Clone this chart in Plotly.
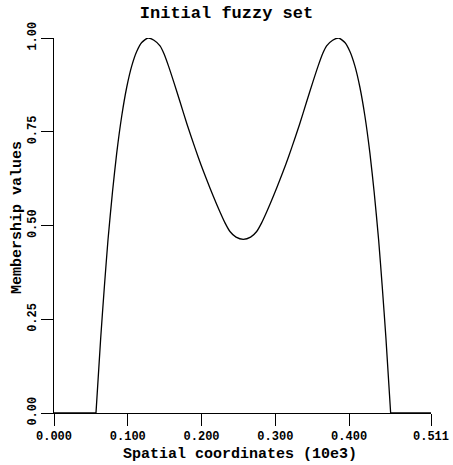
import plotly.graph_objects as go

# Spatial coordinates (x) and membership values (y)
flat_left_x = [0.000, 0.0569]
flat_left_y = [0.000, 0.000]
flat_right_x = [0.4563, 0.511]
flat_right_y = [0.000, 0.000]

x_vals = [0.0569, 0.0633, 0.0684, 0.0732, 0.0793, 0.0850, 0.0918, 0.0985, 0.1053, 0.1121,
          0.1189, 0.1274, 0.1355, 0.1437, 0.1491, 0.1549, 0.1626, 0.1708, 0.1803, 0.1911,
          0.1992, 0.2070, 0.2155, 0.2250, 0.2318, 0.2385, 0.2467, 0.2566,
          0.2665, 0.2747, 0.2814, 0.2882, 0.2977, 0.3062, 0.3140, 0.3221, 0.3329, 0.3424,
          0.3506, 0.3583, 0.3641, 0.3695, 0.3777, 0.3858, 0.3943, 0.4011, 0.4079, 0.4147,
          0.4214, 0.4282, 0.4339, 0.4400, 0.4448, 0.4499, 0.4563]
y_vals = [0.000, 0.200, 0.340, 0.462, 0.590, 0.693, 0.792, 0.868, 0.925, 0.964,
          0.988, 1.000, 0.994, 0.979, 0.958, 0.927, 0.881, 0.830, 0.770, 0.707,
          0.662, 0.622, 0.580, 0.536, 0.507, 0.484, 0.469, 0.463,
          0.469, 0.484, 0.507, 0.536, 0.580, 0.622, 0.662, 0.707, 0.770, 0.830,
          0.881, 0.927, 0.958, 0.979, 0.994, 1.000, 0.988, 0.964, 0.925, 0.868,
          0.792, 0.693, 0.590, 0.462, 0.340, 0.200, 0.000]

x_tickvals = [0.0, 0.1, 0.2, 0.3, 0.4, 0.511]
x_ticktext = ["0.000", "0.100", "0.200", "0.300", "0.400", "0.511"]
y_tickvals = [0.0, 0.25, 0.5, 0.75, 1.0]
y_ticktext = ["0.00", "0.25", "0.50", "0.75", "1.00"]

FONT = "Liberation Mono"
LINE = dict(color="black", width=1.3)

fig = go.Figure()
fig.add_trace(go.Scatter(x=flat_left_x, y=flat_left_y, mode="lines", line=LINE,
                         showlegend=False, hoverinfo="skip"))
fig.add_trace(go.Scatter(x=x_vals, y=y_vals, mode="lines",
                         line=dict(color="black", width=1.3, shape="spline", smoothing=0.6),
                         showlegend=False, hoverinfo="skip"))
fig.add_trace(go.Scatter(x=flat_right_x, y=flat_right_y, mode="lines", line=LINE,
                         showlegend=False, hoverinfo="skip"))

W, H = 453, 465
L, R, T, B = 54, 22, 38, 52
PW, PH = W - L - R, H - T - B

fig.update_layout(
    width=W, height=H,
    margin=dict(l=L, r=R, t=T, b=B),
    paper_bgcolor="white", plot_bgcolor="white",
    title=dict(text="<b>Initial fuzzy set</b>", x=0.5, xanchor="center",
               y=1 - 12 / H, yanchor="middle",
               font=dict(family=FONT, size=17, color="black")),
    font=dict(family=FONT, color="black"),
    annotations=[
        dict(text="<b>Spatial coordinates (10e3)</b>", xref="paper", yref="paper",
             x=(240 - L) / PW, y=-(454 - (T + PH)) / PH, xanchor="center", yanchor="middle",
             showarrow=False, font=dict(family=FONT, size=15, color="black")),
        dict(text="<b>Membership values</b>", xref="paper", yref="paper",
             x=(17 - L) / PW, y=(T + PH - 218) / PH, xanchor="center", yanchor="middle",
             textangle=-90, showarrow=False,
             font=dict(family=FONT, size=15, color="black")),
    ],
)

fig.update_xaxes(range=[0, 0.511], showline=True, linecolor="black", linewidth=1,
                 ticks="outside", ticklen=12, tickcolor="black", tickwidth=1,
                 tickvals=x_tickvals, ticktext=["<b>%s</b>" % t for t in x_ticktext],
                 tickfont=dict(family=FONT, size=12, color="black"),
                 showgrid=False, zeroline=False, automargin=False)
fig.update_yaxes(range=[0, 1], showline=True, linecolor="black", linewidth=1,
                 ticks="outside", ticklen=12, tickcolor="black", tickwidth=1,
                 tickvals=y_tickvals, ticktext=["<b>%s</b>" % t for t in y_ticktext],
                 tickangle=-90,
                 tickfont=dict(family=FONT, size=12, color="black"),
                 showgrid=False, zeroline=False, automargin=False)

fig.write_html("out.html", config={"displayModeBar": False},
               post_script="document.body.style.margin='0px';")
